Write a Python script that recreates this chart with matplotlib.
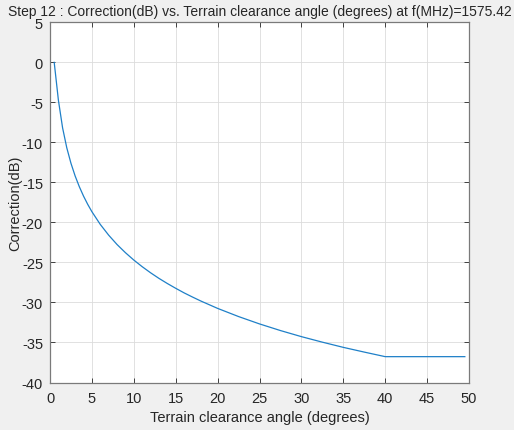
"""
Correction (dB) vs. terrain clearance angle at f = 1575.42 MHz, MATLAB-style figure.
"""
import matplotlib
matplotlib.use("Agg")
import matplotlib.pyplot as plt

# values
angle_deg = [0.5, 1.0, 1.5, 2.0, 2.5, 3.0, 3.5, 4.0, 4.5, 5.0, 6.0, 7.0, 8.0,
             9.0, 10.0, 11.0, 12.0, 13.0, 14.0, 15.0, 16.0, 17.0, 18.0, 20.0,
             22.5, 25.0, 27.5, 30.0, 32.5, 35.0, 37.5, 40.0, 45.0, 49.5]
correction_db = [0.0, -4.72, -8.18, -10.67, -12.61, -14.20, -15.54, -16.71,
                 -17.74, -18.66, -20.25, -21.59, -22.76, -23.78, -24.70,
                 -25.53, -26.29, -26.99, -27.63, -28.23, -28.80, -29.32,
                 -29.82, -30.74, -31.76, -32.68, -33.51, -34.27, -34.96,
                 -35.61, -36.20, -36.77, -36.77, -36.77]
xticks = list(range(0, 51, 5))
yticks = list(range(-40, 6, 5))

title = "Step 12 : Correction(dB) vs. Terrain clearance angle (degrees) at f(MHz)=1575.42"

plt.rcParams["font.family"] = ["Liberation Sans", "DejaVu Sans"]
plt.rcParams["axes.unicode_minus"] = False   # MATLAB draws a plain hyphen

fig = plt.figure(figsize=(5.14, 4.31), dpi=100, facecolor="#f0f0f0")
ax = fig.add_axes([0.0973, 0.1102, 0.8152, 0.8356])
ax.set_facecolor("white")

ax.plot(angle_deg, correction_db, color="#1f80c8", lw=0.9)

ax.set_xlim(0, 50)
ax.set_ylim(-40, 5)
ax.set_xticks(xticks)
ax.set_yticks(yticks)
ax.grid(True, color="#dcdcdc", lw=0.6)
ax.set_axisbelow(True)
ax.tick_params(direction="in", top=True, right=True, length=3.5,
               width=0.6, color="#262626", labelsize=10.5, labelcolor="#262626")
ax.tick_params(axis="x", pad=6)
ax.tick_params(axis="y", pad=5)
for s in ax.spines.values():
    s.set_color("#7a7a7a")
    s.set_linewidth(0.9)

ax.set_xlabel("Terrain clearance angle (degrees)", fontsize=10.5, color="#262626", labelpad=4)
ax.set_ylabel("Correction(dB)", fontsize=10.5, color="#262626", labelpad=0)
ax.set_title(title, fontsize=10, color="#262626", pad=5)

fig.savefig("out.png", dpi=100, facecolor=fig.get_facecolor())
